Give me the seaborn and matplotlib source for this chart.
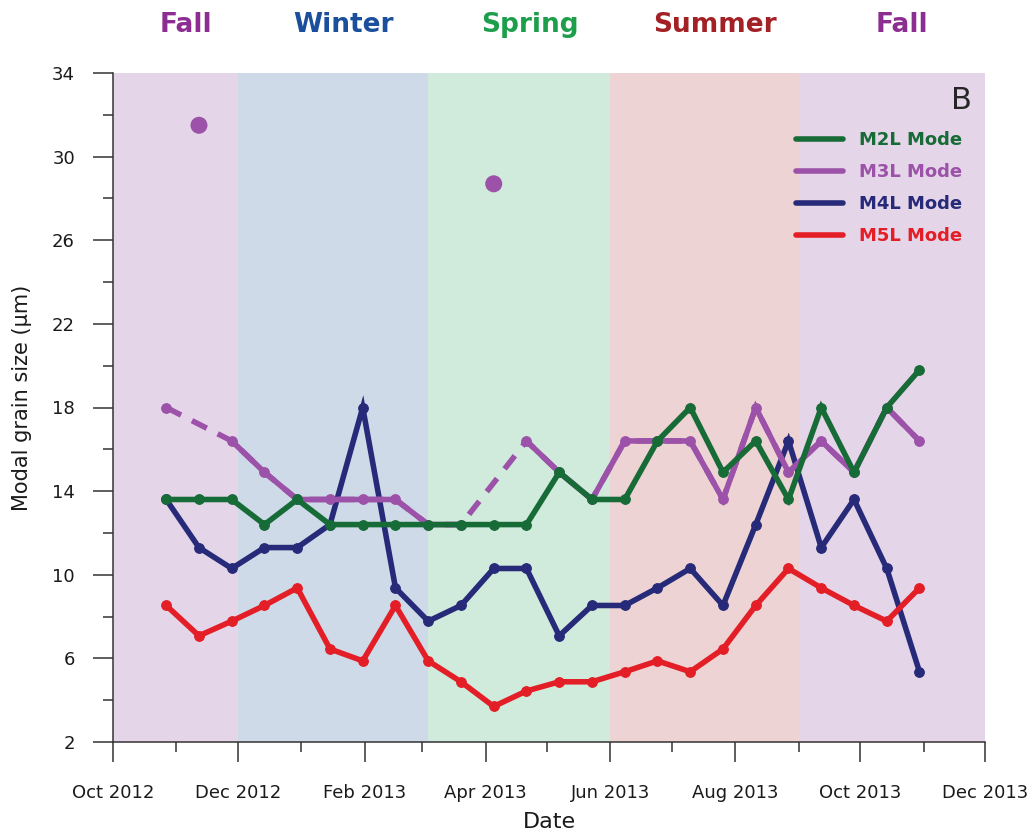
import matplotlib
matplotlib.use("Agg")
import matplotlib.pyplot as plt
import matplotlib.dates as mdates
import matplotlib.transforms as mtransforms
from matplotlib.lines import Line2D
import numpy as np
import pandas as pd
import seaborn as sns

# Sample dates (16-day sampling)
dates = pd.to_datetime([
    "2012-10-27", "2012-11-12", "2012-11-28", "2012-12-14", "2012-12-30",
    "2013-01-15", "2013-01-31", "2013-02-16", "2013-03-04", "2013-03-20",
    "2013-04-05", "2013-04-21", "2013-05-07", "2013-05-23", "2013-06-08",
    "2013-06-24", "2013-07-10", "2013-07-26", "2013-08-11", "2013-08-27",
    "2013-09-12", "2013-09-28", "2013-10-14", "2013-10-30",
])

# Modal grain size (um) per sensor
m2l = [13.6, 13.6, 13.6, 12.4, 13.6, 12.4, 12.4, 12.4, 12.4, 12.4, 12.4, 12.4,
       14.9, 13.6, 13.6, 16.4, 18.0, 14.9, 16.4, 13.6, 18.0, 14.9, 18.0, 19.8]
m3l = [18.0, 31.5, 16.4, 14.9, 13.6, 13.6, 13.6, 13.6, 12.4, 12.4, 28.7, 16.4,
       14.9, 13.6, 16.4, 16.4, 16.4, 13.6, 18.0, 14.9, 16.4, 14.9, 18.0, 16.4]
m4l = [13.6, 11.3, 10.3, 11.3, 11.3, 12.4, 18.0, 9.37, 7.78, 8.53, 10.3, 10.3,
       7.08, 8.53, 8.53, 9.37, 10.3, 8.53, 12.4, 16.4, 11.3, 13.6, 10.3, 5.36]
m5l = [8.53, 7.08, 7.78, 8.53, 9.37, 6.45, 5.88, 8.53, 5.88, 4.88, 3.70, 4.44,
       4.88, 4.88, 5.36, 5.88, 5.36, 6.45, 8.53, 10.3, 9.37, 8.53, 7.78, 9.37]
# M3L points treated as outliers (shown as single dots, line bridged dashed)
m3l_outliers = [1, 10]

# Seasons
season_names = ["Fall", "Winter", "Spring", "Summer", "Fall"]
season_edges = pd.to_datetime(["2012-10-01", "2012-12-01", "2013-03-04",
                               "2013-06-01", "2013-09-01", "2013-12-01"])
band_colors = ["#e5d5e8", "#cfdae8", "#d0eadc", "#edd3d4", "#e5d5e8"]
label_colors = ["#8c2d91", "#1b4f9c", "#1c9e4b", "#a32025", "#8c2d91"]

series_names = ["M2L Mode", "M3L Mode", "M4L Mode", "M5L Mode"]
series_colors = ["#176b36", "#9b52a8", "#262a78", "#e31e26"]

sns.set_style("ticks")
plt.rcParams["font.family"] = ["DejaVu Sans"]

fig = plt.figure(figsize=(10.32, 8.39), dpi=100)
ax = fig.add_axes([113 / 1032, 97 / 839, 872 / 1032, 669 / 839])

# season bands
for i in range(len(season_names)):
    ax.axvspan(season_edges[i], season_edges[i + 1], color=band_colors[i],
               lw=0, zorder=0)

lw = 4.0
ms = 7


def segments(values, skip):
    rows = []
    seg = 0
    for i, v in enumerate(values):
        if i in skip:
            seg += 1
            continue
        rows.append((dates[i], v, seg))
    return pd.DataFrame(rows, columns=["date", "value", "seg"])


# draw order: navy, red, purple, green (green on top)
order = [2, 3, 1, 0]
all_values = [m2l, m3l, m4l, m5l]
for z, k in enumerate(order):
    vals = all_values[k]
    skip = m3l_outliers if k == 1 else []
    df = segments(vals, skip)
    if skip:
        # dashed bridge over the outliers
        sns.lineplot(data=df, x="date", y="value", ax=ax, color=series_colors[k],
                     lw=lw, dashes=False, linestyle=(0, (3, 2.2)),
                     estimator=None, sort=False, zorder=2 + 2 * z)
    sns.lineplot(data=df, x="date", y="value", units="seg", estimator=None,
                 ax=ax, color=series_colors[k], lw=lw, marker="o", ms=ms,
                 mec=series_colors[k], sort=False, zorder=3 + 2 * z,
                 solid_joinstyle="miter")

# outlier dots
out_df = pd.DataFrame({"date": dates[m3l_outliers],
                       "value": [m3l[i] for i in m3l_outliers]})
sns.scatterplot(data=out_df, x="date", y="value", ax=ax, color=series_colors[1],
                s=150, edgecolor="none", zorder=20)

ax.set_xlim(season_edges[0], season_edges[-1])
ax.set_ylim(2, 34)

ax.xaxis.set_major_locator(mdates.MonthLocator(bymonth=[2, 4, 6, 8, 10, 12]))
ax.xaxis.set_minor_locator(mdates.MonthLocator())
ax.xaxis.set_major_formatter(mdates.DateFormatter("%b %Y"))
ax.set_yticks(np.arange(2, 35, 4))
ax.set_yticks(np.arange(2, 35, 2), minor=True)

ax.tick_params(axis="both", which="major", length=14.4, width=1.1,
               color="#333333", labelsize=13, labelcolor="#1a1a1a")
ax.tick_params(axis="both", which="minor", length=7.2, width=1.1,
               color="#333333")
ax.tick_params(axis="x", which="major", pad=16)
ax.tick_params(axis="y", which="major", pad=13)

for s in ["top", "right"]:
    ax.spines[s].set_visible(False)
for s in ["left", "bottom"]:
    ax.spines[s].set_color("#333333")
    ax.spines[s].set_linewidth(1.1)

ax.set_xlabel("Date", fontsize=16, color="#1a1a1a", va="center")
ax.xaxis.set_label_coords(0.5, -0.12)
ax.set_ylabel("Modal grain size (\u00b5m)", fontsize=15, color="#1a1a1a",
              va="center")
ax.yaxis.set_label_coords(-0.104, 0.515)

# season labels above the plot
trans = mtransforms.blended_transform_factory(ax.transData, ax.transAxes)
for i, name in enumerate(season_names):
    mid = season_edges[i] + (season_edges[i + 1] - season_edges[i]) / 2
    mid = mid + pd.Timedelta(days=5)
    ax.text(mid, 1.072, name, transform=trans, ha="center", va="center",
            fontsize=19, fontweight="bold", color=label_colors[i])

ax.text(0.985, 0.98, "B", transform=ax.transAxes, ha="right", va="top",
        fontsize=22)

handles = [Line2D([], [], color=c, lw=lw) for c in series_colors]
leg = ax.legend(handles, series_names, loc="upper left",
                bbox_to_anchor=(0.783, 0.913), frameon=False,
                prop={"weight": "bold", "size": 13}, labelcolor=series_colors,
                handlelength=2.6, handletextpad=0.9, labelspacing=0.78,
                borderaxespad=0, borderpad=0)

fig.savefig("out.png", dpi=100)
